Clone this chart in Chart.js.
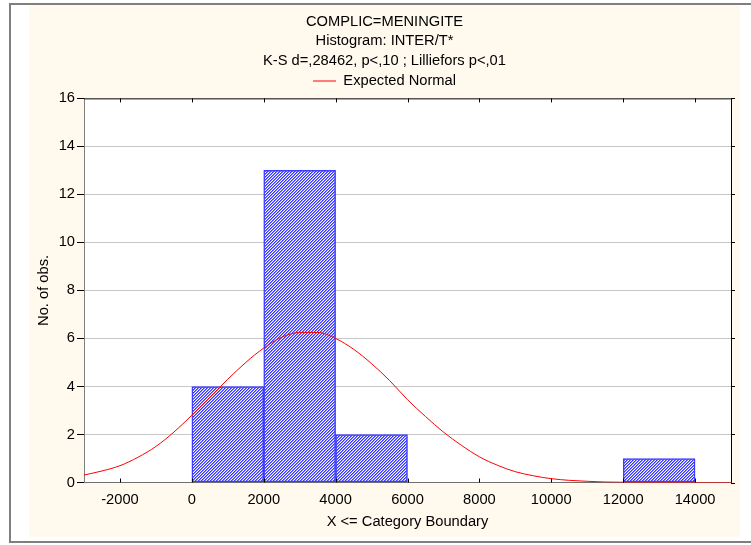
<!DOCTYPE html>
<html>
<head>
<meta charset="utf-8">
<script src="https://cdn.jsdelivr.net/npm/chart.js@4.4.0/dist/chart.umd.min.js"></script>
<style>
    html, body { margin: 0; padding: 0; background: #ffffff; }
    #wrap { width: 751px; height: 545px; }
</style>
</head>
<body>
<div id="wrap"><canvas id="histChart" width="751" height="545"></canvas></div>
<script>
// ============================================
// HISTOGRAM INTER/T* WITH EXPECTED NORMAL
// ============================================

const titleLines = ['COMPLIC=MENINGITE', 'Histogram: INTER/T*', 'K-S d=,28462, p<,10 ; Lilliefors p<,01'];

// histogram bins (lower boundary) and counts
const binStart = [-2000, 0, 2000, 4000, 6000, 8000, 10000, 12000];
const binCount = [0, 4, 13, 2, 0, 0, 0, 1];
const binWidth = 2000;

const curveX = [-3000, -2500, -2000, -1500, -1000, -500, 0, 500, 1000, 1500, 2000, 2500, 3000, 3500,
    4000, 4500, 5000, 5500, 6000, 6500, 7000, 7500, 8000, 8500, 9000, 9500, 10000, 10500,
    11000, 11500, 12000, 12500, 13000, 13500, 14000, 14500, 15000];
const curveY = [0.31, 0.48, 0.70, 1.05, 1.50, 2.10, 2.80, 3.55, 4.30, 5.00, 5.60, 6.05, 6.25, 6.25,
    6.00, 5.55, 4.95, 4.25, 3.45, 2.75, 2.10, 1.55, 1.07, 0.72, 0.45, 0.28, 0.16, 0.09,
    0.05, 0.02, 0.01, 0, 0, 0, 0, 0, 0];

const xTicks = [-2000, 0, 2000, 4000, 6000, 8000, 10000, 12000, 14000];
const yTicks = [0, 2, 4, 6, 8, 10, 12, 14, 16];

const FONT = '"Liberation Sans", Arial, sans-serif';
const FSIZE = 14.7;

// fine diagonal hatch used for the bars
function hatchPattern(ctx) {
    const tile = document.createElement('canvas');
    tile.width = 3;
    tile.height = 3;
    const t = tile.getContext('2d');
    const shades = ['#3535ff', '#8585ff', '#ffffff'];
    for (let x = 0; x < 3; x++) {
        for (let y = 0; y < 3; y++) {
            t.fillStyle = shades[(x + y) % 3];
            t.fillRect(x, y, 1, 1);
        }
    }
    return ctx.createPattern(tile, 'repeat');
}

// panel background, frame, plot border and inner tick marks
const panelPlugin = {
    id: 'panel',
    beforeDraw(chart) {
        const ctx = chart.ctx;
        const a = chart.chartArea;
        ctx.save();
        ctx.fillStyle = '#ffffff';
        ctx.fillRect(0, 0, chart.width, chart.height);
        ctx.fillStyle = '#fff9ee';
        ctx.fillRect(29, 5, 711, 532);
        ctx.strokeStyle = '#7f7f7f';
        ctx.lineWidth = 2;
        ctx.beginPath();
        ctx.moveTo(chart.width + 2, 4);
        ctx.lineTo(10, 4);
        ctx.lineTo(10, 542);
        ctx.lineTo(chart.width + 2, 542);
        ctx.stroke();
        ctx.fillStyle = '#ffffff';
        ctx.fillRect(a.left, a.top, a.right - a.left, a.bottom - a.top);
        ctx.restore();
    },
    afterDraw(chart) {
        const ctx = chart.ctx;
        const a = chart.chartArea;
        const xs = chart.scales.x;
        const ys = chart.scales.y;
        ctx.save();
        ctx.strokeStyle = '#000000';
        ctx.lineWidth = 1;
        ctx.beginPath();
        ctx.moveTo(a.left, a.top + 0.5);
        ctx.lineTo(a.right + 0.5, a.top + 0.5);
        ctx.lineTo(a.right + 0.5, a.bottom);
        ctx.stroke();
        ctx.beginPath();
        xTicks.forEach(v => {
            const px = Math.round(xs.getPixelForValue(v)) + 0.5;
            ctx.moveTo(px, a.bottom);
            ctx.lineTo(px, a.bottom - 4);
            ctx.moveTo(px, a.top);
            ctx.lineTo(px, a.top + 4);
        });
        yTicks.forEach(v => {
            const py = Math.round(ys.getPixelForValue(v)) + 0.5;
            ctx.moveTo(a.right, py);
            ctx.lineTo(a.right + 4, py);
        });
        ctx.stroke();
        ctx.restore();
    }
};

window.addEventListener('DOMContentLoaded', () => {
    const canvas = document.getElementById('histChart');
    const ctx = canvas.getContext('2d');

    new Chart(ctx, {
        type: 'bar',
        data: {
            datasets: [
                {
                    type: 'line',
                    label: 'Expected Normal',
                    data: curveX.map((x, i) => ({ x: x, y: curveY[i] })),
                    borderColor: '#ff0000',
                    backgroundColor: '#ff0000',
                    borderWidth: 1,
                    pointRadius: 0,
                    cubicInterpolationMode: 'monotone',
                    fill: false
                },
                {
                    type: 'bar',
                    label: 'INTER/T*',
                    data: binStart.map((s, i) => ({ x: s + binWidth / 2, y: binCount[i] })),
                    backgroundColor: hatchPattern(ctx),
                    borderColor: '#3c3cff',
                    borderWidth: 1.5,
                    borderSkipped: false,
                    barPercentage: 1.0,
                    categoryPercentage: 1.0
                }
            ]
        },
        options: {
            responsive: false,
            animation: false,
            devicePixelRatio: 1,
            layout: { padding: { left: 38, right: 20, top: 5, bottom: 0 } },
            plugins: {
                title: {
                    display: true,
                    text: titleLines,
                    color: '#000000',
                    font: { family: FONT, size: FSIZE, weight: 'normal', lineHeight: 1.33 },
                    padding: { top: 7, bottom: -3 }
                },
                legend: {
                    display: true,
                    labels: {
                        filter: item => item.datasetIndex === 0,
                        usePointStyle: true,
                        pointStyle: 'line',
                        pointStyleWidth: 23,
                        color: '#000000',
                        padding: 6,
                        font: { family: FONT, size: FSIZE }
                    }
                },
                tooltip: { enabled: false }
            },
            scales: {
                x: {
                    type: 'linear',
                    min: -3000,
                    max: 15000,
                    offset: false,
                    afterBuildTicks: s => { s.ticks = xTicks.map(v => ({ value: v })); },
                    afterFit: s => { s.height = 62.5; },
                    ticks: {
                        color: '#000000',
                        autoSkip: false,
                        maxRotation: 0,
                        padding: 9,
                        callback: v => String(v),
                        font: { family: FONT, size: FSIZE }
                    },
                    grid: { display: true, drawOnChartArea: false, drawTicks: false },
                    border: { display: true, color: '#6f6f6f', width: 1 },
                    title: {
                        display: true,
                        text: 'X <= Category Boundary',
                        color: '#000000',
                        font: { family: FONT, size: FSIZE, lineHeight: 1 },
                        padding: { top: 0, bottom: 16 }
                    }
                },
                y: {
                    min: 0,
                    max: 16,
                    afterBuildTicks: s => { s.ticks = yTicks.map(v => ({ value: v })); },
                    afterFit: s => { s.width = 46; },
                    ticks: {
                        color: '#000000',
                        padding: 2,
                        callback: v => String(v),
                        font: { family: FONT, size: FSIZE }
                    },
                    grid: {
                        color: c => (c.tick && (c.tick.value === 0 || c.tick.value === 16)) ? 'rgba(0,0,0,0)' : '#c8c8c8',
                        tickColor: '#000000',
                        tickLength: 7
                    },
                    border: { display: true, color: '#7f7f7f', width: 1 },
                    title: {
                        display: true,
                        text: 'No. of obs.',
                        color: '#000000',
                        font: { family: FONT, size: FSIZE, lineHeight: 1 },
                        padding: { top: -1, bottom: 0 }
                    }
                }
            }
        },
        plugins: [panelPlugin]
    });
});
</script>
</body>
</html>
